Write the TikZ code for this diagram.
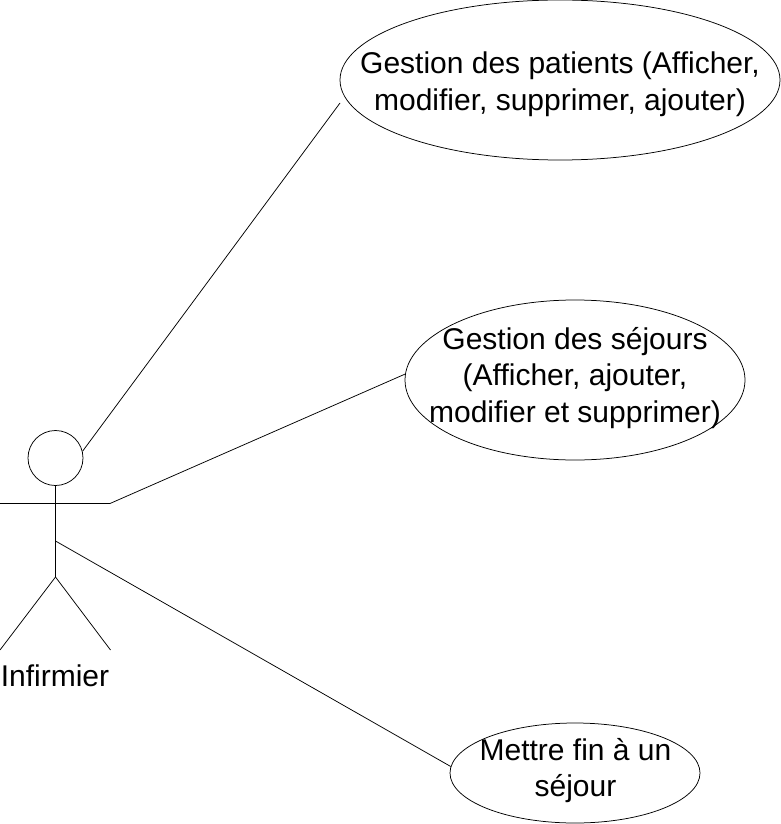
\documentclass[tikz,border=0pt]{standalone}
\usepackage{fontspec}
\setmainfont{Liberation Sans}
\usetikzlibrary{shapes.geometric}
\tikzset{
  usecase/.style={draw,ellipse,inner sep=0pt},
  lbl/.style={font=\fontsize{30}{36.5}\selectfont,inner sep=0pt,align=center},
  link/.style={draw,line width=0.75pt}
}
\begin{document}
\begin{tikzpicture}[x=1pt,y=-1pt,line width=0.75pt]
\useasboundingbox (0,0) rectangle (781,824);
\node[usecase,minimum width=440pt,minimum height=160pt] (patients) at (560,80) {};
\node[lbl] (patientsT) at (560,84) {Gestion des patients (Afficher,\\modifier, supprimer, ajouter)};
\node[usecase,minimum width=340pt,minimum height=160pt] (sejours) at (575,380) {};
\node[lbl] (sejoursT) at (575,378) {Gestion des séjours\\(Afficher, ajouter,\\modifier et supprimer)};
\node[usecase,minimum width=250pt,minimum height=100pt] (fin) at (575,773) {};
\node[lbl] (finT) at (575.5,770.5) {Mettre fin à un\\séjour};
\node[draw,circle,minimum size=55pt,inner sep=0pt] (head) at (55.5,458) {};
\coordinate (armL) at (0,503.5);
\coordinate (armR) at (110,503.5);
\coordinate (hip) at (55.5,577);
\coordinate (footL) at (0,650);
\coordinate (footR) at (110.5,650);
\coordinate (waist) at (55.5,541);
\coordinate (patientsEnd) at (340,103);
\draw[link] (head.south) -- (hip);
\draw[link] (armL) -- (armR);
\draw[link] (hip) -- (footL);
\draw[link] (hip) -- (footR);
\node[lbl] (actor) at (55,676) {Infirmier};
\draw[link] (head.14) -- (patientsEnd);
\draw[link] (armR) -- (sejours.178.7);
\draw[link] (waist) -- (fin.177);
\end{tikzpicture}
\end{document}
